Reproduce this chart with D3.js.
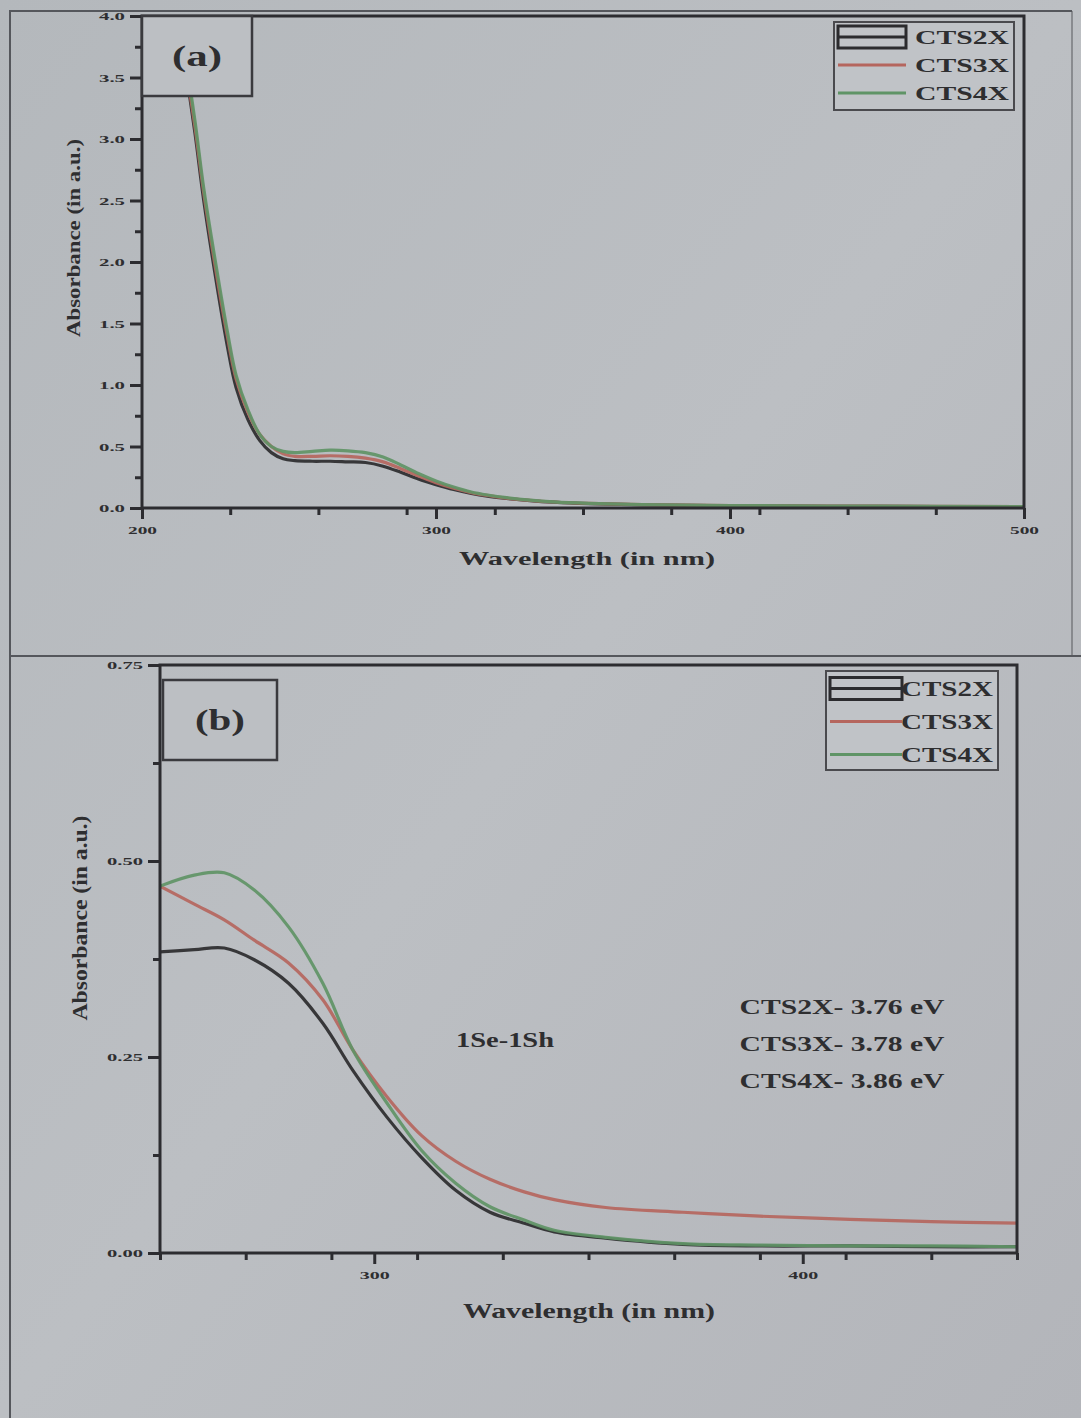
<!DOCTYPE html>
<html>
<head>
<meta charset="utf-8">
<script src="https://cdn.jsdelivr.net/npm/d3@7/dist/d3.min.js"></script>
<style>
  html, body { margin: 0; padding: 0; background: #b9bcc0; }
  svg { display: block; }
  text { font-family: "Liberation Serif", "DejaVu Serif", serif; font-weight: bold; fill: #2e2e30; }
</style>
</head>
<body>
<svg id="chart" width="1081" height="1418"></svg>
<script>
// ---------------- DATA ----------------
const seriesNames = ["CTS2X", "CTS3X", "CTS4X"];

// Panel (a): wavelength (nm) and absorbance (a.u.)
const wavelengthA = [210, 214, 218, 221, 225, 229, 232, 236, 240, 244, 248, 252, 258, 264, 270, 276, 282, 288, 294, 300, 306, 312, 318, 324, 332, 340, 352, 370, 400, 450, 500];
const cts2xA = [4.3, 3.7, 3.05, 2.5, 1.88, 1.32, 0.98, 0.72, 0.55, 0.45, 0.40, 0.385, 0.38, 0.38, 0.375, 0.37, 0.34, 0.29, 0.235, 0.19, 0.15, 0.118, 0.095, 0.078, 0.06, 0.047, 0.035, 0.025, 0.018, 0.013, 0.01];
const cts3xA = [4.3, 3.72, 3.1, 2.56, 1.95, 1.4, 1.05, 0.78, 0.6, 0.5, 0.44, 0.42, 0.42, 0.425, 0.42, 0.405, 0.375, 0.32, 0.26, 0.205, 0.16, 0.125, 0.1, 0.08, 0.062, 0.049, 0.037, 0.027, 0.02, 0.015, 0.012];
const cts4xA = [4.35, 3.78, 3.15, 2.6, 2.0, 1.44, 1.08, 0.8, 0.6, 0.5, 0.46, 0.45, 0.46, 0.47, 0.465, 0.45, 0.415, 0.35, 0.28, 0.22, 0.17, 0.13, 0.104, 0.084, 0.064, 0.05, 0.038, 0.028, 0.02, 0.015, 0.012];

// Panel (b)
const wavelengthB = [250, 258, 265, 272, 280, 288, 295, 303, 311, 319, 327, 335, 342, 354, 372, 390, 411, 430, 450];
const cts2xB = [0.384, 0.387, 0.389, 0.374, 0.344, 0.293, 0.233, 0.173, 0.122, 0.080, 0.052, 0.038, 0.027, 0.019, 0.011, 0.009, 0.009, 0.008, 0.008];
const cts3xB = [0.468, 0.445, 0.425, 0.399, 0.370, 0.323, 0.259, 0.199, 0.150, 0.117, 0.094, 0.078, 0.068, 0.058, 0.052, 0.047, 0.043, 0.040, 0.038];
const cts4xB = [0.468, 0.482, 0.485, 0.463, 0.416, 0.344, 0.259, 0.191, 0.131, 0.089, 0.059, 0.042, 0.029, 0.020, 0.012, 0.010, 0.009, 0.009, 0.008];

// Ticks
const xTicksA = [200, 300, 400, 500];
const xMinorA = [230, 260, 290, 320, 350, 380, 410, 440, 470];
const yTicksA = [0, 0.5, 1.0, 1.5, 2.0, 2.5, 3.0, 3.5, 4.0];
const yMinorA = [0.25, 0.75, 1.25, 1.75, 2.25, 2.75, 3.25, 3.75];
const xTicksB = [300, 400];
const xMinorB = [250, 270, 290, 310, 330, 350, 370, 390, 410, 430, 450];
const yTicksB = [0, 0.25, 0.5, 0.75];
const yMinorB = [0.125, 0.375, 0.625];

const bandGapLabels = ["CTS2X- 3.76 eV", "CTS3X- 3.78 eV", "CTS4X- 3.86 eV"];
const transitionLabel = "1Se-1Sh";

// ---------------- STYLE ----------------
const colors = { CTS2X: "#2b2b2e", CTS3X: "#b5665e", CTS4X: "#5f9466" };
const axisColor = "#2c2c30";

const svg = d3.select("#chart");

const defs = svg.append("defs");
const grad = defs.append("linearGradient").attr("id", "bg").attr("x1", 0).attr("y1", 0).attr("x2", 1).attr("y2", 1);
grad.append("stop").attr("offset", "0%").attr("stop-color", "#b4b8bc");
grad.append("stop").attr("offset", "50%").attr("stop-color", "#bcbfc3");
grad.append("stop").attr("offset", "100%").attr("stop-color", "#b3b5ba");
svg.append("rect").attr("width", 1081).attr("height", 1418).attr("fill", "url(#bg)");

// page frame lines
const frame = svg.append("g").attr("stroke", "#55575c").attr("stroke-width", 2).attr("fill", "none");
frame.append("line").attr("x1", 10).attr("y1", 10).attr("x2", 10).attr("y2", 1418);
frame.append("line").attr("x1", 10).attr("y1", 11).attr("x2", 1072).attr("y2", 11);
frame.append("line").attr("x1", 1072).attr("y1", 11).attr("x2", 1072).attr("y2", 655).attr("stroke-opacity", 0.5);
frame.append("line").attr("x1", 10).attr("y1", 656).attr("x2", 1081).attr("y2", 656);

function stretch(sel, len) {
  return sel.attr("textLength", len).attr("lengthAdjust", "spacingAndGlyphs");
}

function drawPanel(cfg) {
  const g = svg.append("g");
  const x = d3.scaleLinear().domain(cfg.xDomain).range([cfg.left, cfg.right]);
  const y = d3.scaleLinear().domain(cfg.yDomain).range([cfg.bottom, cfg.top]);

  const clipId = "clip" + cfg.id;
  defs.append("clipPath").attr("id", clipId)
    .append("rect").attr("x", cfg.left).attr("y", cfg.top)
    .attr("width", cfg.right - cfg.left).attr("height", cfg.bottom - cfg.top);

  // curves
  const line = d3.line().x(d => x(d[0])).y(d => y(d[1])).curve(d3.curveCatmullRom.alpha(0.5));
  const lg = g.append("g").attr("clip-path", `url(#${clipId})`);
  cfg.series.forEach(s => {
    const pts = cfg.xs.map((w, i) => [w, s.values[i]]);
    lg.append("path").datum(pts).attr("d", line)
      .attr("fill", "none").attr("stroke", colors[s.name])
      .attr("stroke-width", 3.2).attr("stroke-linejoin", "round").attr("opacity", 0.92);
  });

  // axes
  const xAxis = d3.axisBottom(x).tickValues(cfg.xTicks).tickFormat(d3.format("d"))
    .tickSize(11).tickPadding(7);
  const xAxisMinor = d3.axisBottom(x).tickValues(cfg.xMinor).tickFormat("").tickSize(7);
  const yAxis = d3.axisLeft(y).tickValues(cfg.yTicks).tickFormat(d3.format(cfg.yFmt))
    .tickSize(12).tickPadding(5);
  const yAxisMinor = d3.axisLeft(y).tickValues(cfg.yMinor).tickFormat("").tickSize(7);

  const styleAxis = (sel, lenFn) => {
    sel.select(".domain").remove();
    sel.selectAll("line").attr("stroke", axisColor).attr("stroke-width", 3);
    sel.selectAll("text").attr("font-size", cfg.tickFont).attr("fill", "#333")
      .attr("font-family", "Liberation Serif, serif").attr("font-weight", "bold");
  };
  g.append("g").attr("transform", `translate(0,${cfg.bottom})`).call(xAxis).call(styleAxis)
    .selectAll("text").call(s => stretch(s, cfg.xTickLen));
  g.append("g").attr("transform", `translate(0,${cfg.bottom})`).call(xAxisMinor).call(styleAxis);
  g.append("g").attr("transform", `translate(${cfg.left},0)`).call(yAxis).call(styleAxis)
    .selectAll("text").call(s => stretch(s, cfg.yTickLen));
  g.append("g").attr("transform", `translate(${cfg.left},0)`).call(yAxisMinor).call(styleAxis);

  // frame
  g.append("rect").attr("x", cfg.left).attr("y", cfg.top)
    .attr("width", cfg.right - cfg.left).attr("height", cfg.bottom - cfg.top)
    .attr("fill", "none").attr("stroke", axisColor).attr("stroke-width", 3);

  // axis titles
  g.append("text").attr("x", cfg.xTitleX).attr("y", cfg.xTitleY)
    .attr("text-anchor", "middle").attr("font-size", cfg.titleFont).text("Wavelength (in nm)")
    .call(s => stretch(s, cfg.xTitleLen));
  g.append("text").attr("transform", `translate(${cfg.yTitleX},${cfg.yTitleCY}) rotate(-90)`)
    .attr("text-anchor", "middle").attr("font-size", cfg.titleFont).text("Absorbance (in a.u.)")
    .call(s => stretch(s, cfg.yTitleLen));

  // panel label box
  g.append("rect").attr("x", cfg.labelBox[0]).attr("y", cfg.labelBox[1])
    .attr("width", cfg.labelBox[2]).attr("height", cfg.labelBox[3])
    .attr("fill", "#bcbfc3").attr("stroke", "#3a3a3e").attr("stroke-width", 2.5);
  g.append("text").attr("x", cfg.labelBox[0] + cfg.labelBox[2] / 2)
    .attr("y", cfg.labelBox[1] + cfg.labelBox[3] / 2 + 10)
    .attr("text-anchor", "middle").attr("font-size", 29).text(cfg.label)
    .call(s => stretch(s, 50));

  // legend
  const L = cfg.legend;
  g.append("rect").attr("x", L.x).attr("y", L.y).attr("width", L.w).attr("height", L.h)
    .attr("fill", "#c0c3c7").attr("stroke", "#4a4a4e").attr("stroke-width", 2);
  cfg.series.forEach((s, i) => {
    const cy = L.y + L.rowH * (i + 0.5) + 1;
    if (i === 0) {
      g.append("rect").attr("x", L.x + 4).attr("y", cy - 11).attr("width", L.sw).attr("height", 22)
        .attr("fill", "none").attr("stroke", colors[s.name]).attr("stroke-width", 3);
      g.append("line").attr("x1", L.x + 4).attr("x2", L.x + 4 + L.sw).attr("y1", cy).attr("y2", cy)
        .attr("stroke", colors[s.name]).attr("stroke-width", 3);
    } else {
      g.append("line").attr("x1", L.x + 4).attr("x2", L.x + 4 + L.sw).attr("y1", cy).attr("y2", cy)
        .attr("stroke", colors[s.name]).attr("stroke-width", 3);
    }
    g.append("text").attr("x", L.x + L.w - 5).attr("y", cy + 7).attr("text-anchor", "end")
      .attr("font-size", L.font).text(s.name)
      .call(t => stretch(t, L.textLen));
  });
  return { x, y, g };
}

drawPanel({
  id: "A",
  xDomain: [200, 500], yDomain: [0, 4],
  left: 142, right: 1024, top: 16, bottom: 508,
  xs: wavelengthA,
  series: [
    { name: "CTS2X", values: cts2xA },
    { name: "CTS3X", values: cts3xA },
    { name: "CTS4X", values: cts4xA }
  ],
  xTicks: xTicksA, xMinor: xMinorA, yTicks: yTicksA, yMinor: yMinorA, yFmt: ".1f",
  tickFont: 11, xTickLen: 29, yTickLen: 26,
  titleFont: 18, xTitleX: 587, xTitleY: 565, xTitleLen: 256,
  yTitleX: 80, yTitleCY: 238, yTitleLen: 198,
  labelBox: [142, 16, 110, 80], label: "(a)",
  legend: { x: 834, y: 22, w: 180, h: 88, rowH: 28, sw: 68, font: 19, textLen: 94 }
});

const pB = drawPanel({
  id: "B",
  xDomain: [250, 450], yDomain: [0, 0.75],
  left: 160, right: 1017, top: 665, bottom: 1253,
  xs: wavelengthB,
  series: [
    { name: "CTS2X", values: cts2xB },
    { name: "CTS3X", values: cts3xB },
    { name: "CTS4X", values: cts4xB }
  ],
  xTicks: xTicksB, xMinor: xMinorB, yTicks: yTicksB, yMinor: yMinorB, yFmt: ".2f",
  tickFont: 11, xTickLen: 30, yTickLen: 36,
  titleFont: 21, xTitleX: 589, xTitleY: 1318, xTitleLen: 252,
  yTitleX: 87, yTitleCY: 918, yTitleLen: 205,
  labelBox: [163, 680, 114, 80], label: "(b)",
  legend: { x: 826, y: 671, w: 172, h: 99, rowH: 33, sw: 72, font: 21, textLen: 92 }
});

// annotations in panel (b)
pB.g.append("text").attr("x", 505).attr("y", 1047).attr("text-anchor", "middle")
  .attr("font-size", 20).text(transitionLabel).call(s => stretch(s, 98));
bandGapLabels.forEach((t, i) => {
  pB.g.append("text").attr("x", 842).attr("y", 1014 + i * 37).attr("text-anchor", "middle")
    .attr("font-size", 21).text(t).call(s => stretch(s, 205));
});
</script>
</body>
</html>
